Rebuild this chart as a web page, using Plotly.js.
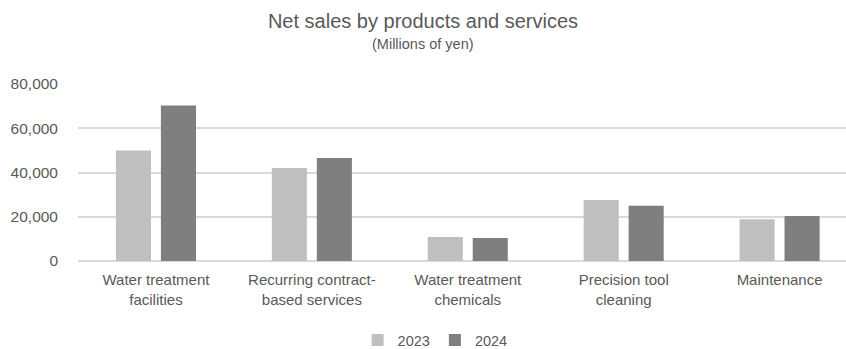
<!DOCTYPE html>
<html>
<head>
<meta charset="utf-8">
<script src="https://cdn.plot.ly/plotly-3.0.1.min.js"></script>
<style>html,body{margin:0;padding:0;background:#fff;}#chart{width:846px;height:349px;}</style>
</head>
<body>
<div id="chart"></div>
<script>
const categories = ["Water treatment<br>facilities", "Recurring contract-<br>based services", "Water treatment<br>chemicals", "Precision tool<br>cleaning", "Maintenance"];
const sales2023 = [50000, 42000, 10900, 27600, 18900];
const sales2024 = [70300, 46500, 10400, 25000, 20300];
const seriesNames = ["2023", "2024"];
const yTicks = [0, 20000, 40000, 60000, 80000];
const yTickLabels = ["0", "20,000", "40,000", "60,000", "80,000"];

const textColor = "#595959";
const font = "Liberation Sans, Arial, sans-serif";

const data = [
  {type: "bar", x: categories, y: sales2023, name: seriesNames[0], marker: {color: "#BFBFBF"}},
  {type: "bar", x: categories, y: sales2024, name: seriesNames[1], marker: {color: "#7F7F7F"}}
];

const layout = {
  width: 846, height: 349,
  margin: {l: 78, r: 0, t: 84, b: 88, autoexpand: false},
  paper_bgcolor: "#fff", plot_bgcolor: "#fff",
  font: {family: font, color: textColor, size: 15},
  barmode: "group",
  bargap: 0.423,
  bargroupgap: 0.22,
  title: {
    text: "Net sales by products and services",
    font: {family: font, size: 20, color: textColor},
    x: 0.5, xanchor: "center", xref: "container",
    y: 1 - 21 / 349, yanchor: "middle", yref: "container"
  },
  annotations: [{
    text: "(Millions of yen)",
    xref: "paper", yref: "paper", x: (423 - 78) / 768, y: (261 - 44) / 177,
    xanchor: "center", yanchor: "middle", showarrow: false,
    font: {family: font, size: 14.5, color: textColor}
  }],
  xaxis: {
    type: "category",
    range: [-0.5, 4.426],
    automargin: false,
    tickangle: 0,
    showgrid: false, zeroline: false,
    showline: false,
    ticks: "", ticklabelstandoff: 8,
    tickfont: {family: font, size: 15, color: textColor}
  },
  yaxis: {
    range: [0, 80000],
    automargin: false,
    tickvals: yTicks, ticktext: yTickLabels,
    showgrid: true, gridcolor: "#D9D9D9", gridwidth: 1.5,
    zeroline: true, zerolinecolor: "#D9D9D9", zerolinewidth: 1.5,
    showline: false, ticks: "",
    ticklabelstandoff: 19,
    tickfont: {family: font, size: 15.5, color: textColor}
  },
  showlegend: true,
  legend: {
    orientation: "h", x: 0.465, xanchor: "center",
    y: (261 - 340) / 177, yanchor: "middle",
    font: {family: font, size: 14.5, color: textColor},
    itemwidth: 30, tracegroupgap: 0
  }
};

Plotly.newPlot("chart", data, layout, {displayModeBar: false, responsive: false});
</script>
</body>
</html>
